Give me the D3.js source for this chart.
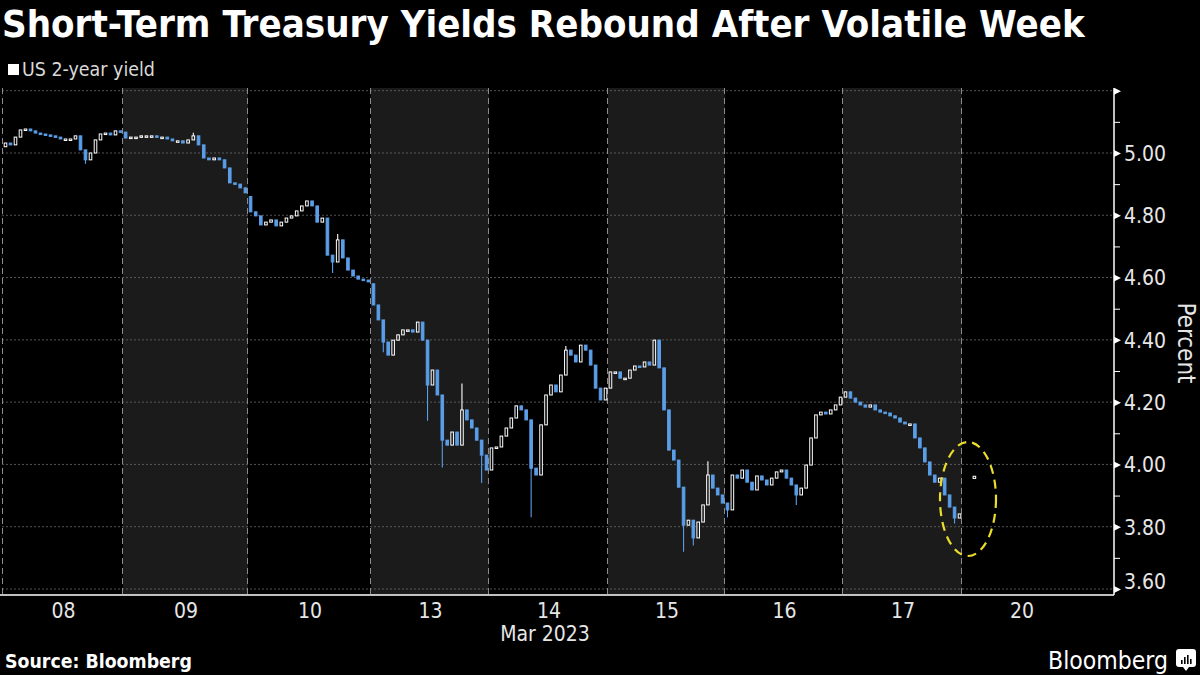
<!DOCTYPE html>
<html>
<head>
<meta charset="utf-8">
<script src="https://cdn.jsdelivr.net/npm/d3@7"></script>
<style>
  html, body { margin: 0; padding: 0; background: #000; }
  svg { display: block; }
</style>
</head>
<body>
<div id="chart"></div>
<script>
// 日期标签
const dayLabels = ['08', '09', '10', '13', '14', '15', '16', '17', '20'];
const monthLabel = 'Mar 2023';
const yTicks = [3.6, 3.8, 4.0, 4.2, 4.4, 4.6, 4.8, 5.0, 5.2];
const yMinor = [3.7, 3.9, 4.1, 4.3, 4.5, 4.7, 4.9, 5.1];

// 每天24根K线的收盘价
const day08 = [5.032, 5.026, 5.051, 5.074, 5.077, 5.071, 5.064, 5.061, 5.058, 5.055, 5.051, 5.045,
               5.045, 5.045, 5.055, 5.010, 4.978, 5.000, 5.042, 5.061, 5.064, 5.058, 5.071, 5.067];
const day09 = [5.048, 5.051, 5.051, 5.055, 5.055, 5.055, 5.051, 5.051, 5.045, 5.039, 5.039, 5.032,
               5.042, 5.055, 5.026, 4.984, 4.978, 4.984, 4.978, 4.952, 4.904, 4.900, 4.888, 4.872];
const day10 = [4.811, 4.798, 4.769, 4.778, 4.785, 4.766, 4.778, 4.791, 4.798, 4.814, 4.830, 4.846,
               4.830, 4.778, 4.791, 4.672, 4.650, 4.721, 4.663, 4.624, 4.605, 4.595, 4.592, 4.586];
const day13 = [4.512, 4.464, 4.393, 4.351, 4.399, 4.416, 4.432, 4.432, 4.425, 4.457, 4.399, 4.255,
               4.303, 4.223, 4.078, 4.062, 4.104, 4.062, 4.175, 4.143, 4.117, 4.078, 4.030, 3.982];
const day14 = [4.053, 4.056, 4.091, 4.117, 4.149, 4.188, 4.175, 4.143, 3.988, 3.966, 4.127, 4.223,
               4.255, 4.233, 4.287, 4.367, 4.351, 4.329, 4.383, 4.367, 4.319, 4.245, 4.207, 4.245];
const day15 = [4.297, 4.297, 4.277, 4.277, 4.303, 4.316, 4.313, 4.329, 4.319, 4.399, 4.310, 4.175,
               4.046, 4.014, 3.927, 3.805, 3.821, 3.764, 3.815, 3.870, 3.966, 3.924, 3.902, 3.876];
const day16 = [3.854, 3.966, 3.956, 3.982, 3.943, 3.918, 3.963, 3.950, 3.934, 3.956, 3.976, 3.982,
               3.956, 3.934, 3.902, 3.924, 3.998, 4.085, 4.159, 4.168, 4.162, 4.175, 4.191, 4.216];
const day17 = [4.233, 4.213, 4.200, 4.191, 4.184, 4.191, 4.175, 4.168, 4.165, 4.156, 4.149, 4.136,
               4.130, 4.130, 4.085, 4.053, 4.008, 3.966, 3.943, 3.956, 3.902, 3.863, 3.828, 3.841];
const day20 = [null, null, 3.962];
// 每天第一根K线的开盘价
const dayOpens = [5.020, 5.067, 4.860, 4.580, 3.982, 4.245, 3.876, 4.216, 3.955];
// 影线 [天, 第几根, 值]
const wickLows = [[0, 16, 4.965], [2, 16, 4.615], [3, 2, 4.36], [3, 11, 4.14], [3, 14, 3.99],
                  [3, 22, 3.94], [4, 8, 3.83], [5, 15, 3.72], [5, 17, 3.74], [6, 0, 3.83],
                  [6, 14, 3.87], [7, 22, 3.81]];
const wickHighs = [[3, 0, 4.57], [3, 18, 4.26], [4, 15, 4.38], [5, 20, 4.01], [1, 13, 5.065],
                   [2, 17, 4.74]];

const days = [day08, day09, day10, day13, day14, day15, day16, day17, day20];
const slots = 24;

const W = 1200, H = 675;
const plotL = 2, plotR = 1114, plotT = 88, plotB = 595;
const dayEdges = [3, 123, 248, 371, 489, 608, 725, 843, 962, 1081]; // 每天起止像素
const blue = '#5b9ee8';
const font = '"DejaVu Sans Condensed", "Liberation Sans", sans-serif';

const svg = d3.select('#chart').append('svg').attr('width', W).attr('height', H)
    .style('background', '#000')
    .style('font-family', '"Liberation Sans", Arial, sans-serif');

// 按宽度调整字号
function fitText(sel, width) {
    const fs = parseFloat(sel.style('font-size'));
    const len = sel.node().getComputedTextLength();
    sel.style('font-size', (fs * width / len).toFixed(2) + 'px');
}

const x = d3.scaleLinear().domain(d3.range(dayEdges.length)).range(dayEdges);
const y = d3.scaleLinear().domain([3.6, 5.2]).range([589, 90.7]);

// 交替的日期背景
svg.append('g').selectAll('rect').data(dayLabels).join('rect')
    .attr('x', (d, i) => x(i)).attr('width', (d, i) => x(i + 1) - x(i))
    .attr('y', plotT).attr('height', plotB - plotT)
    .attr('fill', (d, i) => i % 2 === 1 ? '#1b1b1b' : '#000');

// 水平网格线
svg.append('g').selectAll('line').data(yTicks).join('line')
    .attr('x1', plotL).attr('x2', plotR)
    .attr('y1', d => y(d)).attr('y2', d => y(d))
    .attr('stroke', '#6a6a6a').attr('stroke-width', 0.8).attr('stroke-dasharray', '2,2');

// 日期分隔虚线
svg.append('g').selectAll('line').data(dayLabels).join('line')
    .attr('x1', (d, i) => x(i) - 0.5).attr('x2', (d, i) => x(i) - 0.5)
    .attr('y1', plotT).attr('y2', plotB)
    .attr('stroke', '#8c8c8c').attr('stroke-width', 1).attr('stroke-dasharray', '6,4');

// 组装K线
let candles = [];
let prev = null;
days.forEach((arr, di) => {
    arr.forEach((c, si) => {
        if (c === null) return;
        const first = candles.length === 0 || candles[candles.length - 1].day !== di;
        const o = first ? dayOpens[di] : prev;
        let hi = Math.max(o, c), lo = Math.min(o, c);
        wickLows.forEach(w => { if (w[0] === di && w[1] === si) lo = Math.min(lo, w[2]); });
        wickHighs.forEach(w => { if (w[0] === di && w[1] === si) hi = Math.max(hi, w[2]); });
        candles.push({day: di, slot: si, o: o, c: c, hi: hi, lo: lo,
                      t: di + (si + 0.5) / slots});
        prev = c;
    });
});

const bw = 2.6;
const cg = svg.append('g');
cg.selectAll('line').data(candles).join('line')
    .attr('x1', d => x(d.t)).attr('x2', d => x(d.t))
    .attr('y1', d => y(d.hi)).attr('y2', d => y(d.lo))
    .attr('stroke', d => d.c >= d.o ? '#fff' : blue).attr('stroke-width', 1.1);
cg.selectAll('rect').data(candles).join('rect')
    .attr('x', d => x(d.t) - bw / 2).attr('width', bw)
    .attr('y', d => y(Math.max(d.o, d.c)))
    .attr('height', d => Math.max(1.5, Math.abs(y(d.o) - y(d.c))))
    .attr('fill', d => d.c >= d.o ? (d.day % 2 === 1 ? '#1b1b1b' : '#000') : blue)
    .attr('stroke', d => d.c >= d.o ? '#fff' : blue)
    .attr('stroke-width', 1);

// 黄色虚线椭圆
svg.append('ellipse')
    .attr('cx', 968).attr('cy', 499).attr('rx', 28).attr('ry', 57)
    .attr('fill', 'none').attr('stroke', '#eadb2c').attr('stroke-width', 2.2)
    .attr('stroke-dasharray', '9,6');

// 底部基线
svg.append('line').attr('x1', 0).attr('x2', plotR).attr('y1', plotB).attr('y2', plotB)
    .attr('stroke', '#fff').attr('stroke-width', 1.5);

// 右侧纵轴
const yAxis = svg.append('g').attr('transform', `translate(${plotR},0)`)
    .call(d3.axisRight(y).tickValues(yTicks).tickSize(0).tickPadding(10)
        .tickFormat(d => d === 5.2 ? '' : d3.format('.2f')(d)));
yAxis.select('.domain').remove();
yAxis.selectAll('text').attr('fill', '#e6e6e6').style('font-size', '21px')
    .style('font-family', font)
    .attr('dy', '0.35em')
    .attr('y', d => y(d) > plotB - 12 ? (plotB - 14) - y(d) : 0);
yAxis.selectAll('.tick').append('path')
    .attr('d', 'M0,-3.5L7,0L0,3.5Z').attr('fill', '#fff');
svg.append('g').attr('transform', `translate(${plotR},0)`)
    .call(d3.axisRight(y).tickValues(yMinor).tickSize(6).tickFormat(''))
    .call(g => g.select('.domain').remove())
    .selectAll('line').attr('stroke', '#fff');
svg.append('line').attr('x1', plotR).attr('x2', plotR).attr('y1', plotT).attr('y2', plotB)
    .attr('stroke', '#fff').attr('stroke-width', 1.5);

// 横轴日期
const xAxis = svg.append('g').attr('transform', `translate(0,${plotB})`)
    .call(d3.axisBottom(x).tickValues(d3.range(dayLabels.length).map(i => i + 0.5))
        .tickSize(0).tickPadding(8).tickFormat((d, i) => dayLabels[i]));
xAxis.select('.domain').remove();
xAxis.selectAll('text').attr('fill', '#e6e6e6').style('font-size', '21px')
    .style('font-family', font);
svg.append('text').text(monthLabel).attr('x', 545).attr('y', 641)
    .attr('text-anchor', 'middle').attr('fill', '#e6e6e6').style('font-size', '21px')
    .style('font-family', font);

// 纵轴标题
svg.append('text').text('Percent')
    .attr('transform', 'translate(1178,343) rotate(90)')
    .attr('text-anchor', 'middle').attr('fill', '#e6e6e6').style('font-size', '24px')
    .style('font-family', font);

// 标题
const title = svg.append('text').text('Short-Term Treasury Yields Rebound After Volatile Week')
    .attr('x', 2).attr('y', 37).attr('fill', '#fff').style('font-family', font)
    .style('font-weight', 'bold').style('font-size', '36px');
fitText(title, 1083);

// 图例
svg.append('rect').attr('x', 8).attr('y', 64).attr('width', 11).attr('height', 11).attr('fill', '#fff');
const leg = svg.append('text').text('US 2-year yield').attr('x', 22).attr('y', 76)
    .attr('fill', '#d9d9d9').style('font-size', '16px').style('font-family', font);
fitText(leg, 133);

// 来源
const src = svg.append('text').text('Source: Bloomberg').attr('x', 5).attr('y', 668)
    .attr('fill', '#fff').style('font-weight', 'bold').style('font-size', '17px')
    .style('font-family', font);
fitText(src, 187);

// Bloomberg 标志
const brand = svg.append('text').text('Bloomberg').attr('x', 1168).attr('y', 669)
    .attr('text-anchor', 'end').attr('fill', '#fff')
    .style('font-size', '23px').style('font-family', font);
fitText(brand, 120);
const logo = svg.append('g').attr('transform', 'translate(1176,649)');
logo.append('rect').attr('width', 20).attr('height', 18).attr('rx', 3).attr('fill', '#fff');
logo.append('path').attr('d', 'M7,18L10,22L13,18Z').attr('fill', '#fff');
[[5, 9, 4], [8, 6, 7], [11, 4, 9], [14, 8, 5]].forEach(b => {
    logo.append('rect').attr('x', b[0]).attr('y', b[1] + 2).attr('width', 1.6)
        .attr('height', b[2]).attr('fill', '#000');
});
</script>
</body>
</html>
